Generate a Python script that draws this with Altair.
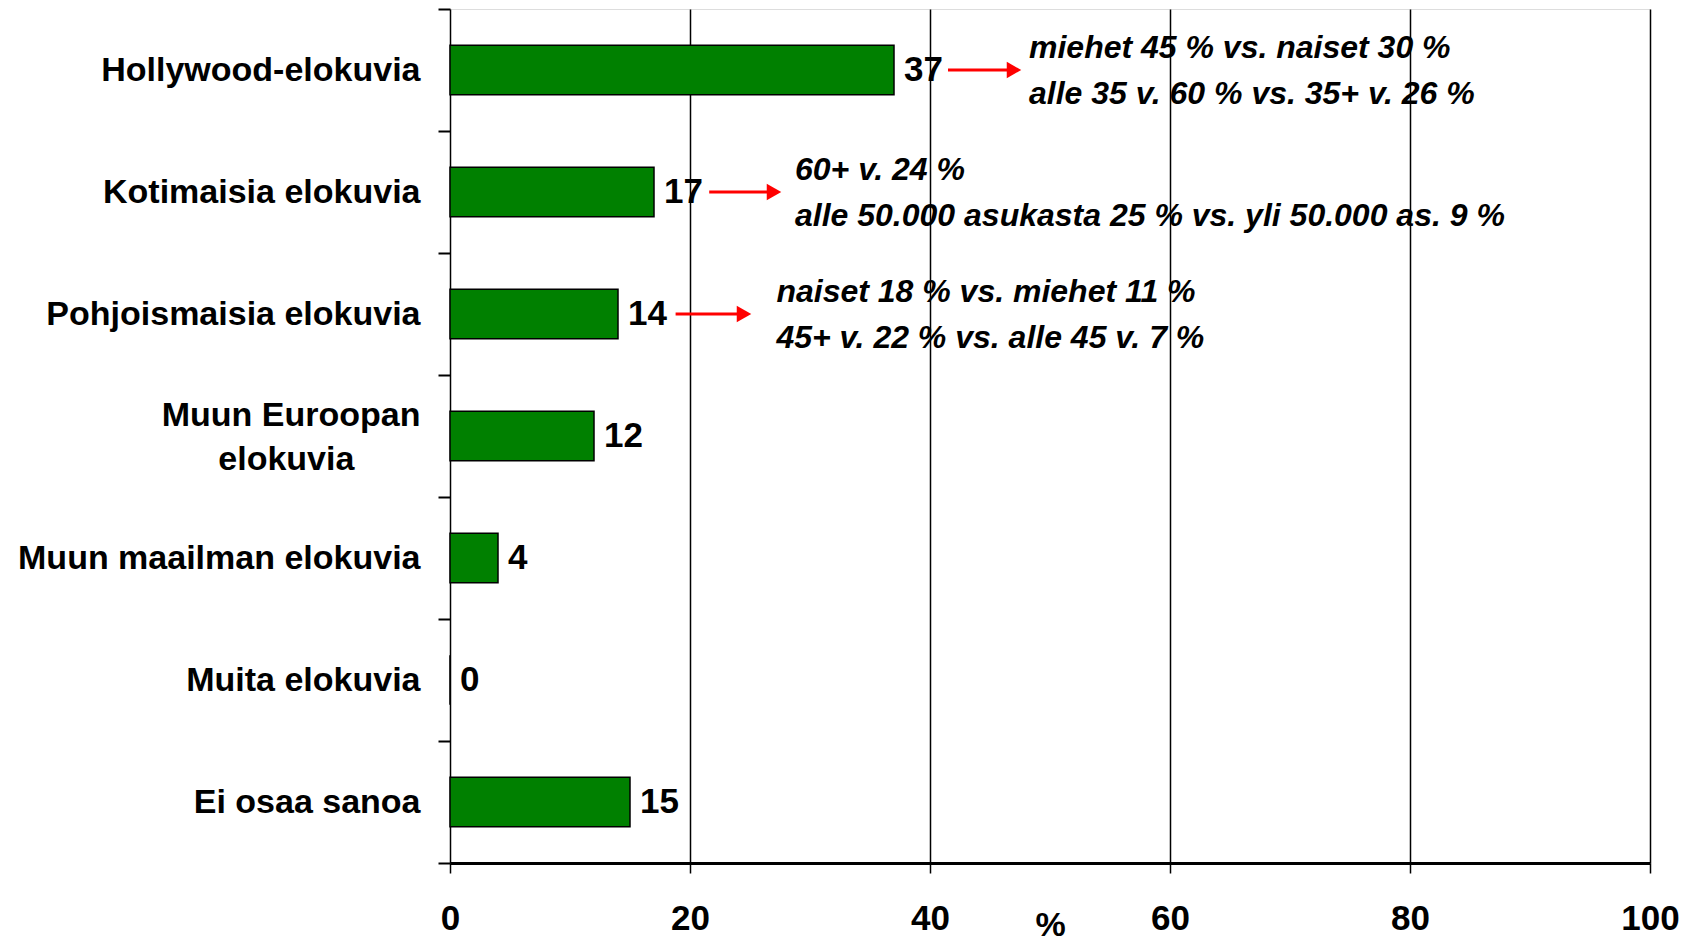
import altair as alt
import pandas as pd

FONT = "Liberation Sans, Arial, sans-serif"

categories = ["Hollywood-elokuvia", "Kotimaisia elokuvia", "Pohjoismaisia elokuvia",
              "Muun Euroopan elokuvia", "Muun maailman elokuvia", "Muita elokuvia",
              "Ei osaa sanoa"]
values = [37, 17, 14, 12, 4, 0, 15]

note_categories = ["Hollywood-elokuvia", "Kotimaisia elokuvia", "Pohjoismaisia elokuvia"]
arrow_start = [41.5, 21.6, 18.8]
arrow_end = [47.0, 27.0, 24.5]
note_x = [48.25, 28.75, 27.2]
note_text = [
    "miehet 45 % vs. naiset 30 %\nalle 35 v. 60 % vs. 35+ v. 26 %",
    "60+ v. 24 %\nalle 50.000 asukasta 25 % vs. yli 50.000 as. 9 %",
    "naiset 18 % vs. miehet 11 %\n45+ v. 22 % vs. alle 45 v. 7 %",
]
x_ticks = [0, 20, 40, 60, 80, 100]

bars_df = pd.DataFrame({"category": categories, "value": values})
notes_df = pd.DataFrame({"category": note_categories, "start": arrow_start,
                         "end": arrow_end, "tx": note_x, "note": note_text})

xscale = alt.Scale(domain=[0, 100], nice=False, zero=True)
yscale = alt.Scale(domain=categories, paddingInner=0, paddingOuter=0)

xaxis = alt.Axis(values=x_ticks, grid=True, gridColor="black", gridWidth=1.5,
                 gridOpacity=1, tickSize=10, tickColor="black", tickWidth=1.5,
                 domainColor="black", domainWidth=3, labelFont=FONT,
                 labelFontSize=35, labelFontWeight="bold", labelColor="black",
                 labelPadding=28, labelFlush=False, title="%", titleFont=FONT,
                 titleFontSize=34, titleFontWeight="bold", titleColor="black",
                 titleY=45, titleBaseline="top")

two_line = "Muun Euroopan elokuvia"
label_expr = ("datum.label == '" + two_line + "' ? ['Muun Euroopan', 'elokuvia"
              + "\u00a0" * 7 + "\u200d'] : datum.label")
yaxis = alt.Axis(title=None, tickBand="extent", tickSize=12, tickColor="black",
                 tickWidth=2, domain=False, grid=False, labelFont=FONT,
                 labelFontSize=34, labelFontWeight="bold", labelColor="black",
                 labelPadding=18, labelLimit=0, labelExpr=label_expr,
                 labelLineHeight=44,
                 labelOffset={"condition": {"test": "datum.value == '" + two_line + "'",
                                            "value": -21}, "value": 0})

y_enc = alt.Y("category:N", scale=yscale, axis=yaxis)

bars = alt.Chart(bars_df).mark_bar(
    height=alt.RelativeBandSize(0.405), color="#008000", stroke="black",
    strokeWidth=1.5
).encode(x=alt.X("value:Q", scale=xscale, axis=xaxis), y=y_enc)

labels = alt.Chart(bars_df).mark_text(
    align="left", baseline="middle", dx=10, font=FONT, fontSize=35,
    fontWeight="bold", color="black"
).encode(x=alt.X("value:Q", scale=xscale, axis=xaxis), y=y_enc,
         text=alt.Text("value:Q"))

arrows = alt.Chart(notes_df).mark_rule(color="#ff0000", strokeWidth=3).encode(
    x=alt.X("start:Q", scale=xscale, axis=xaxis), x2="end:Q", y=y_enc)

heads = alt.Chart(notes_df).mark_point(
    shape="triangle-right", filled=True, color="#ff0000", opacity=1, size=280
).encode(x=alt.X("end:Q", scale=xscale, axis=xaxis), y=y_enc)

notes = alt.Chart(notes_df).mark_text(
    align="left", baseline="middle", lineBreak="\n", lineHeight=46, dy=-22,
    font=FONT, fontSize=32, fontWeight="bold", fontStyle="italic", color="black"
).encode(x=alt.X("tx:Q", scale=xscale, axis=xaxis), y=y_enc,
         text="note:N")

chart = alt.layer(bars, labels, arrows, heads, notes).properties(
    width=1200, height=854,
    padding={"left": 442, "top": 1, "right": 30, "bottom": 80},
    autosize=alt.AutoSizeParams(type="none"),
).configure_view(stroke="black", strokeWidth=2).configure(background="white")

chart.save("out.html", embed_options={"renderer": "svg", "actions": False})
